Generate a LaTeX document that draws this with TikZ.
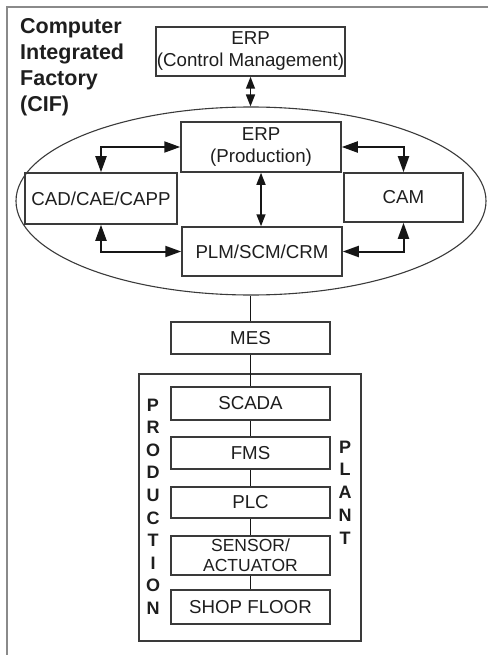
\documentclass[tikz,border=0pt]{standalone}
\usepackage{fontspec}
\setmainfont{Liberation Sans}
\usetikzlibrary{shapes.geometric,arrows.meta}
\definecolor{ink}{HTML}{1E1E1E}
\definecolor{edge}{HTML}{3A3A3A}
\definecolor{wire}{HTML}{161616}
\definecolor{frame}{HTML}{8A8A8A}
\tikzset{
  blk/.style={draw=edge, line width=1.5pt, rectangle, inner sep=0pt, align=center,
    text=ink, font=\fontsize{18.7}{22}\selectfont},
  midblk/.style={blk, minimum width=159pt},
  link/.style={draw=wire, line width=1.5pt},
  dual/.style={draw=wire, line width=2pt, {Triangle[length=16pt,width=11pt]}-{Triangle[length=16pt,width=11pt]}},
  smalldual/.style={draw=wire, line width=1.6pt, {Triangle[length=12pt,width=9pt]}-{Triangle[length=12pt,width=9pt]}},
  vletter/.style={font=\fontsize{18}{18}\bfseries\selectfont, text=ink, inner sep=0pt},
  title/.style={font=\fontsize{21.5}{26}\bfseries\selectfont, text=ink, inner sep=0pt, anchor=base west}
}
\begin{document}
\begin{tikzpicture}[x=1pt,y=-1pt]
\useasboundingbox (0,0) rectangle (488,655);
% outer frame (top and left edges only)
\draw[frame, line width=2.2pt] (488,7) -- (7,7) -- (7,655);

% heading
\node[title] (t1) at (20,33.5) {Computer};
\node[title] (t2) at (20,59.5) {Integrated};
\node[title] (t3) at (20,85.5) {Factory};
\node[title] (t4) at (20,111.5) {(CIF)};

% enterprise level
\node[blk, minimum width=189pt, minimum height=49pt] (ctrl) at (250.5,51.5) {ERP\\(Control Management)};
\node[draw=edge, line width=1.1pt, ellipse, minimum width=470pt, minimum height=188pt, inner sep=0pt] (ell) at (251,201) {};
\node[blk, minimum width=160pt, minimum height=50pt] (erp) at (261,147) {ERP\\(Production)};
\node[blk, minimum width=152pt, minimum height=51pt] (cad) at (101,198.5) {CAD/CAE/CAPP};
\node[blk, minimum width=119pt, minimum height=49pt] (cam) at (403.5,197.5) {CAM};
\node[blk, minimum width=160pt, minimum height=49pt] (plm) at (262,251.5) {PLM/SCM/CRM};

\draw[smalldual] (ctrl.south) -- (ctrl.south |- ell.north);
\draw[dual] (erp.west) -| (cad.north);
\draw[dual] (erp.east) -| (cam.north);
\draw[dual] (plm.west) -| (cad.south);
\draw[dual] (plm.east) -| (cam.south);
\draw[smalldual] (erp.south) -- (erp.south |- plm.north);

% manufacturing execution and plant floor
\node[midblk, minimum height=32pt] (mes) at (250.5,338) {MES};
\node[draw=edge, line width=1.5pt, rectangle, inner sep=0pt, minimum width=222pt, minimum height=267pt] (plant) at (250,507.5) {};
\node[midblk, minimum height=33pt] (scada) at (250.5,403.5) {SCADA};
\node[midblk, minimum height=32pt] (fms) at (250.5,453) {FMS};
\node[midblk, minimum height=31pt] (plc) at (250.5,502.5) {PLC};
\node[midblk, minimum height=39pt, font=\fontsize{17.5}{20}\selectfont] (sensor) at (250.5,555.5) {SENSOR/\\ACTUATOR};
\node[midblk, minimum height=34pt] (shop) at (250.5,607) {SHOP FLOOR};

\draw[link] (ell.south -| mes.north) -- (mes.north);
\draw[link] (mes.south) -- (scada.north);
\draw[link] (scada.south) -- (fms.north);
\draw[link] (fms.south) -- (plc.north);
\draw[link] (plc.south) -- (sensor.north);
\draw[link] (sensor.south) -- (shop.north);

% vertical captions
\foreach \ch [count=\i from 0] in {P,R,O,D,U,C,T,I,O,N}
  \node[vletter] (prod\i) at (153,405+22.56*\i) {\ch};
\foreach \ch [count=\i from 0] in {P,L,A,N,T}
  \node[vletter] (plant\i) at (345,447+22.75*\i) {\ch};
\end{tikzpicture}
\end{document}
